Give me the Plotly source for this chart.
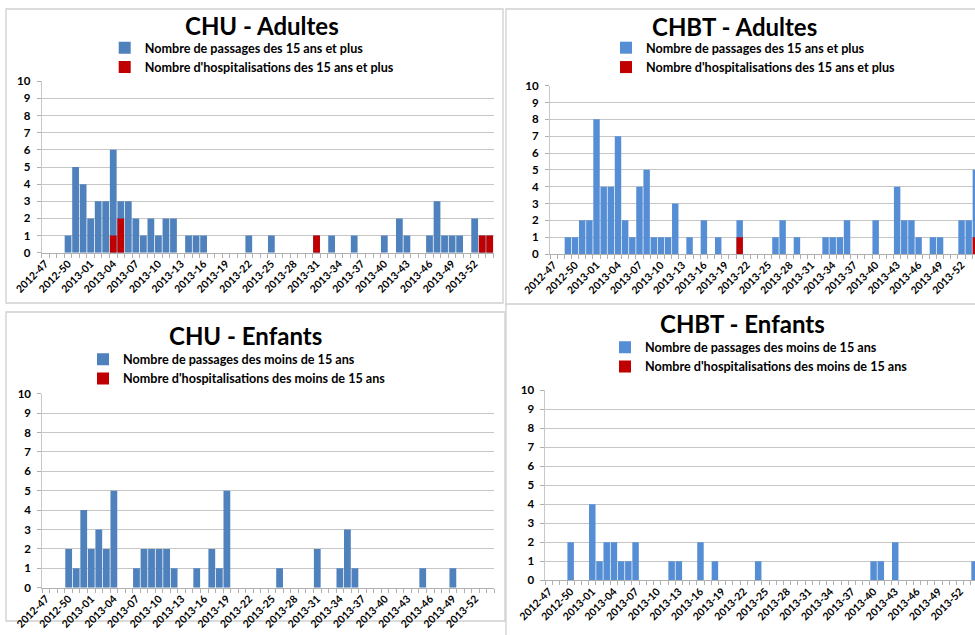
import plotly.graph_objects as go

weeks = ["2012-47", "2012-48", "2012-49", "2012-50", "2012-51", "2012-52",
         "2013-01", "2013-02", "2013-03", "2013-04", "2013-05", "2013-06", "2013-07", "2013-08", "2013-09", "2013-10",
         "2013-11", "2013-12", "2013-13", "2013-14", "2013-15", "2013-16", "2013-17", "2013-18", "2013-19", "2013-20",
         "2013-21", "2013-22", "2013-23", "2013-24", "2013-25", "2013-26", "2013-27", "2013-28", "2013-29", "2013-30",
         "2013-31", "2013-32", "2013-33", "2013-34", "2013-35", "2013-36", "2013-37", "2013-38", "2013-39", "2013-40",
         "2013-41", "2013-42", "2013-43", "2013-44", "2013-45", "2013-46", "2013-47", "2013-48", "2013-49", "2013-50",
         "2013-51", "2013-52", "2014-01", "2014-02"]
tick_labels = weeks[::3]

chu_adult_passages = [0, 0, 0, 1, 5, 4, 2, 3, 3, 6,
                      3, 3, 2, 1, 2, 1, 2, 2, 0, 1,
                      1, 1, 0, 0, 0, 0, 0, 1, 0, 0,
                      1, 0, 0, 0, 0, 0, 1, 0, 1, 0,
                      0, 1, 0, 0, 0, 1, 0, 2, 1, 0,
                      0, 1, 3, 1, 1, 1, 0, 2, 1, 1]
chu_adult_hosp = [0, 0, 0, 0, 0, 0, 0, 0, 0, 1,
                  2, 0, 0, 0, 0, 0, 0, 0, 0, 0,
                  0, 0, 0, 0, 0, 0, 0, 0, 0, 0,
                  0, 0, 0, 0, 0, 0, 1, 0, 0, 0,
                  0, 0, 0, 0, 0, 0, 0, 0, 0, 0,
                  0, 0, 0, 0, 0, 0, 0, 0, 1, 1]
chbt_adult_passages = [0, 0, 1, 1, 2, 2, 8, 4, 4, 7,
                       2, 1, 4, 5, 1, 1, 1, 3, 0, 1,
                       0, 2, 0, 1, 0, 0, 2, 0, 0, 0,
                       0, 1, 2, 0, 1, 0, 0, 0, 1, 1,
                       1, 2, 0, 0, 0, 2, 0, 0, 4, 2,
                       2, 1, 0, 1, 1, 0, 0, 2, 2, 5]
chbt_adult_hosp = [0, 0, 0, 0, 0, 0, 0, 0, 0, 0,
                   0, 0, 0, 0, 0, 0, 0, 0, 0, 0,
                   0, 0, 0, 0, 0, 0, 1, 0, 0, 0,
                   0, 0, 0, 0, 0, 0, 0, 0, 0, 0,
                   0, 0, 0, 0, 0, 0, 0, 0, 0, 0,
                   0, 0, 0, 0, 0, 0, 0, 0, 0, 1]
chu_child_passages = [0, 0, 0, 2, 1, 4, 2, 3, 2, 5,
                      0, 0, 1, 2, 2, 2, 2, 1, 0, 0,
                      1, 0, 2, 1, 5, 0, 0, 0, 0, 0,
                      0, 1, 0, 0, 0, 0, 2, 0, 0, 1,
                      3, 1, 0, 0, 0, 0, 0, 0, 0, 0,
                      1, 0, 0, 0, 1, 0, 0, 0, 0, 0]
chu_child_hosp = [0] * 60
chbt_child_passages = [0, 0, 0, 2, 0, 0, 4, 1, 2, 2,
                       1, 1, 2, 0, 0, 0, 0, 1, 1, 0,
                       0, 2, 0, 1, 0, 0, 0, 0, 0, 1,
                       0, 0, 0, 0, 0, 0, 0, 0, 0, 0,
                       0, 0, 0, 0, 0, 1, 1, 0, 2, 0,
                       0, 0, 0, 0, 0, 0, 0, 0, 0, 1]
chbt_child_hosp = [0] * 60

W, H = 975, 635
FONT = "Lato"
GRID = "#c6c6c6"
RED = "#C00000"


def px(x):
    return x / W


def py(y):
    return 1 - y / H


panels = [
    dict(title="CHU - Adultes", pas=chu_adult_passages, hosp=chu_adult_hosp, blue="#4F81BD",
         names=("Nombre de passages des 15 ans et plus", "Nombre d'hospitalisations des 15 ans et plus"),
         box=(6, 9, 503, 303), xd=(41.7, 493.5), yd=(81.3, 252.7), rng=(-0.5, 59.5),
         tpos=(262, 26), leg=(146.7, 48.5)),
    dict(title="CHBT - Adultes", pas=chbt_adult_passages, hosp=chbt_adult_hosp, blue="#558ED5",
         names=("Nombre de passages des 15 ans et plus", "Nombre d'hospitalisations des 15 ans et plus"),
         box=(506, 9, 977, 305), xd=(550.0, 975), yd=(85.7, 254.0), rng=(-0.5, 58.88),
         tpos=(734.5, 26.5), leg=(648, 48.5)),
    dict(title="CHU - Enfants", pas=chu_child_passages, hosp=chu_child_hosp, blue="#4F81BD",
         names=("Nombre de passages des moins de 15 ans", "Nombre d'hospitalisations des moins de 15 ans"),
         box=(6, 312, 505, 621), xd=(42.3, 494.3), yd=(393.7, 587.7), rng=(-0.5, 59.5),
         tpos=(245.8, 335.5), leg=(125, 360)),
    dict(title="CHBT - Enfants", pas=chbt_child_passages, hosp=chbt_child_hosp, blue="#558ED5",
         names=("Nombre de passages des moins de 15 ans", "Nombre d'hospitalisations des moins de 15 ans"),
         box=(506, 304, 977, 637), xd=(545.4, 975), yd=(390.0, 580.3), rng=(-0.5, 59.06),
         tpos=(742.5, 323.5), leg=(647, 348)),
]

fig = go.Figure()
shapes = []
annotations = []
layout = {}

for i, p in enumerate(panels):
    n = "" if i == 0 else str(i + 1)
    xa, ya = "x" + n, "y" + n
    lg = "legend" + n
    fig.add_trace(go.Bar(x=weeks, y=p["pas"], name=p["names"][0], marker_color=p["blue"],
                         marker_line_width=0, xaxis=xa, yaxis=ya, legend=lg))
    fig.add_trace(go.Bar(x=weeks, y=p["hosp"], name=p["names"][1], marker_color=RED,
                         marker_line_width=0, xaxis=xa, yaxis=ya, legend=lg))
    x0, y0, x1, y1 = p["box"]
    shapes.append(dict(type="rect", xref="paper", yref="paper", x0=px(x0), x1=px(x1), y0=py(y1), y1=py(y0),
                       line=dict(color="#cfcfcf", width=1.3), fillcolor="white", layer="below"))
    annotations.append(dict(text="<b>%s</b>" % p["title"], xref="paper", yref="paper",
                            x=px(p["tpos"][0]), y=py(p["tpos"][1]), xanchor="center", yanchor="middle",
                            showarrow=False, font=dict(family=FONT, size=24, color="black")))
    layout["xaxis" + n] = dict(
        domain=[px(p["xd"][0]), px(p["xd"][1])], anchor=ya, type="category", automargin=False,
        range=list(p["rng"]), tickmode="array", tickvals=weeks,
        ticktext=[w if w in tick_labels else "" for w in weeks],
        tickangle=-45, tickson="boundaries", ticks="outside", ticklen=4, tickcolor="#b0b0b0",
        showline=True, linecolor="#b0b0b0", linewidth=1, showgrid=False, zeroline=False,
        tickfont=dict(family=FONT, size=10.5, color="black", weight="bold"), fixedrange=True)
    layout["yaxis" + n] = dict(
        domain=[py(p["yd"][1]), py(p["yd"][0])], anchor=xa, range=[0, 10], dtick=1, automargin=False,
        showgrid=True, gridcolor=GRID, gridwidth=1, showline=True, linecolor="#c8c8c8",
        ticks="outside", ticklen=4, tickcolor="#b0b0b0", zeroline=False, ticklabelstandoff=4,
        tickfont=dict(family=FONT, size=11.5, color="black", weight="bold"), fixedrange=True)
    layout[lg] = dict(x=px(p["leg"][0] - 42), y=py(p["leg"][1] - 15.5), xanchor="left", yanchor="top",
                      bgcolor="rgba(0,0,0,0)", borderwidth=0, itemwidth=30, tracegroupgap=0,
                      font=dict(family=FONT, size=12.6, color="black", weight="bold"))

fig.update_layout(
    template="none",
    width=W, height=H, margin=dict(l=0, r=0, t=0, b=0, autoexpand=False),
    paper_bgcolor="white", plot_bgcolor="rgba(0,0,0,0)",
    barmode="overlay", bargap=0.1, showlegend=True,
    shapes=shapes, annotations=annotations, **layout)

fig.write_html("out.html", config={"displayModeBar": False},
               post_script="document.body.style.margin='0px';document.body.style.overflow='hidden';")
